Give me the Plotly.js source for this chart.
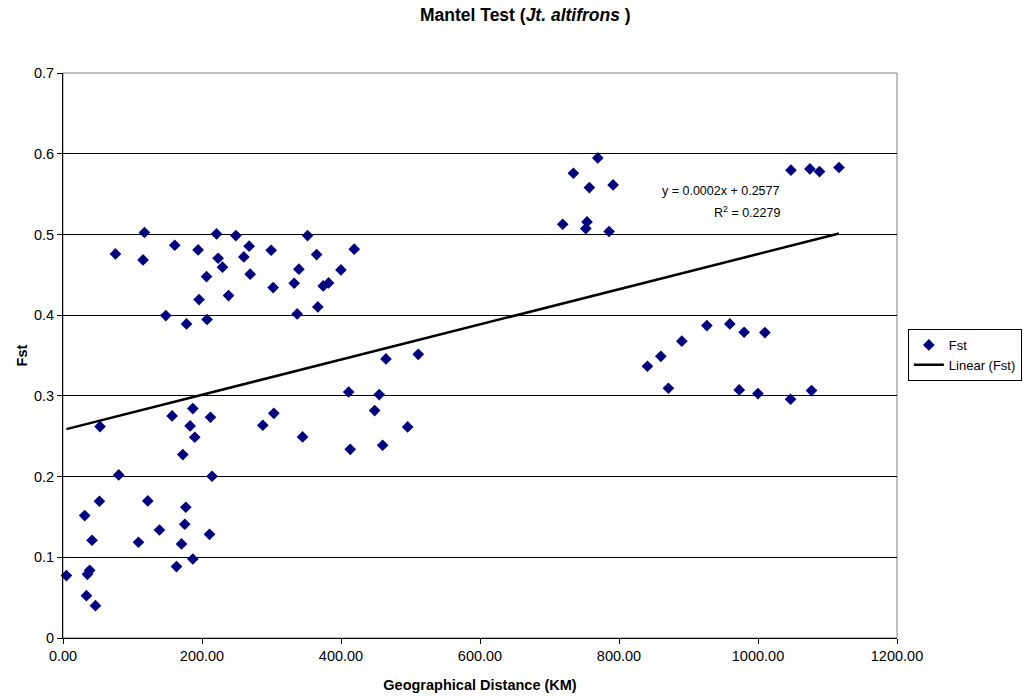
<!DOCTYPE html>
<html>
<head>
<meta charset="utf-8">
<script src="https://cdn.plot.ly/plotly-3.0.1.min.js"></script>
<style>
  html, body { margin: 0; padding: 0; background: #fff; }
  #chart { width: 1028px; height: 697px; }
</style>
</head>
<body>
<div id="chart"></div>
<script>
// Geographical distance (KM)
const distanceKm = [
  4.9, 31.2, 35.1, 38.4, 33.7, 41.8, 46.7, 52.4, 53.3, 80.2,
  108.6, 122.0, 138.8, 157.0, 163.3, 170.5, 172.4, 175.2, 176.7, 182.9,
  186.8, 186.8, 189.6, 212.2, 210.8, 214.5, 287.5, 303.4, 344.7, 411.0,
  413.3, 448.4, 455.0, 464.7, 511.2, 495.9, 459.9,
  75.5, 117.2, 115.2, 160.8, 147.9, 177.7, 194.4, 195.8, 206.5, 207.3,
  220.9, 223.2, 229.5, 238.2, 248.7, 260.2, 267.8, 269.3, 299.5, 302.4,
  332.6, 336.9, 339.4, 351.9, 364.9, 366.7, 374.4, 382.1, 399.9, 419.0,
  769.5, 734.4, 757.4, 791.5, 719.0, 754.0, 752.2, 785.8,
  1047.4, 1074.7, 1088.5, 1116.5,
  840.9, 860.2, 871.1, 890.4, 926.4, 959.5, 980.0, 1009.9, 973.0, 999.9, 1046.8, 1077.0
];
// Fst values
const fstValues = [
  0.0773, 0.1517, 0.0789, 0.0839, 0.0525, 0.1211, 0.0401, 0.1694, 0.2620, 0.2020,
  0.1186, 0.1698, 0.1338, 0.2751, 0.0885, 0.1165, 0.2273, 0.1409, 0.1620, 0.2627,
  0.0979, 0.2843, 0.2487, 0.2735, 0.1285, 0.2004, 0.2636, 0.2784, 0.2491, 0.3048,
  0.2338, 0.2818, 0.3016, 0.3457, 0.3515, 0.2615, 0.2388,
  0.4758, 0.5024, 0.4684, 0.4866, 0.3995, 0.3891, 0.4808, 0.4193, 0.4478, 0.3946,
  0.5006, 0.4705, 0.4594, 0.4243, 0.4986, 0.4721, 0.4854, 0.4507, 0.4804, 0.4342,
  0.4395, 0.4015, 0.4569, 0.4986, 0.4751, 0.4102, 0.4362, 0.4399, 0.4560, 0.4817,
  0.5948, 0.5758, 0.5580, 0.5613, 0.5126, 0.5155, 0.5073, 0.5036,
  0.5796, 0.5812, 0.5779, 0.5829,
  0.3367, 0.3490, 0.3094, 0.3677, 0.3871, 0.3891, 0.3788, 0.3784, 0.3073, 0.3028, 0.2958, 0.3066
];
// Linear trendline (Excel): y = 0.0002x + 0.2577 (slope shown rounded)
const trendSlope = 0.000218;
const trendIntercept = 0.2577;
const trendLabel = "y = 0.0002x + 0.2577";
const r2Label = "R<sup>2</sup> = 0.2279";

const xMin = Math.min(...distanceKm);
const xMax = Math.max(...distanceKm);
const trendX = [xMin, xMax];
const trendY = trendX.map(x => trendSlope * x + trendIntercept);

const FONT = '"Liberation Sans", Arial, Helvetica, sans-serif';
const TICK_SIZE = 14.5;

const traces = [
  {
    type: 'scatter', mode: 'markers', name: 'Fst',
    x: distanceKm, y: fstValues,
    marker: { symbol: 'diamond', size: 9, color: '#000080', line: { width: 0 } },
    cliponaxis: false
  },
  {
    type: 'scatter', mode: 'lines', name: 'Linear (Fst)',
    x: trendX, y: trendY,
    line: { color: '#000000', width: 2.5 }
  }
];

const layout = {
  width: 1028, height: 697,
  margin: { l: 63, r: 131, t: 73, b: 59, autoexpand: false },
  paper_bgcolor: '#ffffff', plot_bgcolor: '#ffffff',
  font: { family: FONT, size: TICK_SIZE, color: '#000000' },
  title: {
    text: '<b>Mantel Test (<i>Jt. altifrons</i> )</b>',
    font: { family: FONT, size: 17.5, color: '#000000' },
    xref: 'container', x: 0.511, xanchor: 'center',
    yref: 'container', y: 0.978, yanchor: 'middle'
  },
  xaxis: {
    range: [0, 1200], dtick: 200, tick0: 0, tickformat: '.2f',
    showgrid: false, zeroline: false,
    showline: true, linecolor: '#000000', linewidth: 1,
    ticks: 'outside', ticklen: 5, tickcolor: '#000000', tickwidth: 1,
    tickfont: { family: FONT, size: TICK_SIZE, color: '#000000' },
    title: { text: '<b>Geographical Distance (KM)</b>', font: { family: FONT, size: TICK_SIZE, color: '#000000' }, standoff: 16 },
    automargin: false,
    fixedrange: true
  },
  yaxis: {
    range: [0, 0.7], dtick: 0.1, tick0: 0,
    showgrid: true, gridcolor: '#000000', gridwidth: 1, zeroline: false,
    showline: true, linecolor: '#000000', linewidth: 1,
    ticks: 'outside', ticklen: 5, tickcolor: '#000000', tickwidth: 1,
    tickfont: { family: FONT, size: TICK_SIZE, color: '#000000' },
    title: { text: '<b>Fst</b>', font: { family: FONT, size: TICK_SIZE, color: '#000000' }, standoff: 2 },
    automargin: false,
    fixedrange: true
  },
  shapes: [
    { type: 'rect', xref: 'paper', yref: 'paper', x0: 0, x1: 1, y0: 0, y1: 1,
      line: { color: '#808080', width: 1 }, layer: 'below' }
  ],
  legend: {
    x: 1.013, xanchor: 'left', y: 0.547, yanchor: 'top',
    bgcolor: '#ffffff', bordercolor: '#000000', borderwidth: 1,
    font: { family: FONT, size: 13, color: '#000000' },
    tracegroupgap: 0, itemwidth: 30
  },
  annotations: [
    { xref: 'x', yref: 'y', x: 1034, y: 0.5535, xanchor: 'right', yanchor: 'middle',
      text: trendLabel, showarrow: false, align: 'right',
      font: { family: FONT, size: 12.5, color: '#000000' } },
    { xref: 'x', yref: 'y', x: 1034, y: 0.5275, xanchor: 'right', yanchor: 'middle',
      text: r2Label, showarrow: false, align: 'right',
      font: { family: FONT, size: 12.5, color: '#000000' } }
  ],
  showlegend: true
};

Plotly.newPlot('chart', traces, layout, { displayModeBar: false, staticPlot: true });
</script>
</body>
</html>
